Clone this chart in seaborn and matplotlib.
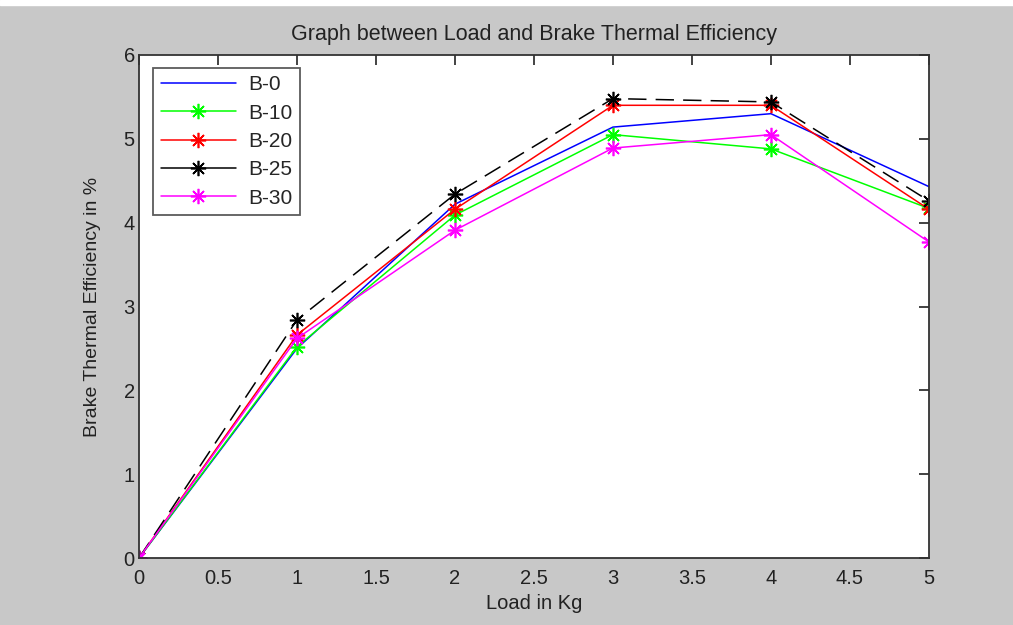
import numpy as np
import pandas as pd
import seaborn as sns
import matplotlib
matplotlib.use("Agg")
import matplotlib.pyplot as plt
from matplotlib.lines import Line2D
from matplotlib.patches import Rectangle

load = [0, 1, 2, 3, 4, 5]
b0 = [0, 2.50, 4.22, 5.14, 5.30, 4.43]
b10 = [0, 2.52, 4.09, 5.05, 4.88, 4.17]
b20 = [0, 2.66, 4.16, 5.40, 5.40, 4.16]
b25 = [0, 2.84, 4.34, 5.48, 5.44, 4.26]
b30 = [0, 2.62, 3.91, 4.89, 5.05, 3.77]

names = ["B-0", "B-10", "B-20", "B-25", "B-30"]
colors = ["#0000ff", "#00ff00", "#ff0000", "#000000", "#ff00ff"]
star = (8, 2, 0)  # asterisk like matlab '*'
markers = [None, star, star, star, star]
styles = ["-", "-", "-", (0, (12, 6)), "-"]

sns.set_style("white")
plt.rcParams["font.family"] = ["Liberation Sans", "DejaVu Sans"]

fig = plt.figure(figsize=(10.13, 6.25), dpi=100, facecolor="#c8c8c8")
fig.patches.append(Rectangle((0, 0.992), 1, 0.008, transform=fig.transFigure,
                             color="white", zorder=0))
ax = fig.add_axes([0.1372, 0.1072, 0.7798, 0.8048])

for name, vals, c, m, ls in zip(names, [b0, b10, b20, b25, b30], colors, markers, styles):
    df = pd.DataFrame({"load": load, "eff": vals})
    sns.lineplot(data=df, x="load", y="eff", ax=ax, color=c, marker=m,
                 markersize=11, markeredgecolor=c, markeredgewidth=1.2,
                 linewidth=1.1, linestyle=ls, label=name, legend=False)

ax.set_xlim(0, 5)
ax.set_ylim(0, 6)
ax.set_xticks(np.arange(0, 5.01, 0.5))
ax.set_xticklabels(["0", "0.5", "1", "1.5", "2", "2.5", "3", "3.5", "4", "4.5", "5"])
ax.set_yticks(range(0, 7))
ax.tick_params(direction="in", top=True, right=True, length=7, width=1.2,
               labelsize=14.5, colors="#222222", pad=3)
ax.tick_params(axis="x", pad=8)
for s in ax.spines.values():
    s.set_color("#333333")
    s.set_linewidth(1.3)

ax.set_title("Graph between Load and Brake Thermal Efficiency", fontsize=15.5,
             pad=11, color="#222222")
ax.set_xlabel("Load in Kg", fontsize=14.5, labelpad=4, color="#222222")
ax.set_ylabel("Brake Thermal Efficiency in %", fontsize=14, labelpad=16,
              color="#222222")

handles = [Line2D([], [], color=c, marker=m, markersize=11, markeredgewidth=1.2,
                  linewidth=1.1) for c, m in zip(colors, markers)]
leg = ax.legend(handles, names, loc="upper left", fontsize=15, frameon=True,
                fancybox=False, edgecolor="#333333", handlelength=3.6,
                borderpad=0.35, labelspacing=0.45, handletextpad=0.6,
                bbox_to_anchor=(0.005, 0.995))
leg.get_frame().set_linewidth(1.3)

fig.savefig("out.png", dpi=100, facecolor=fig.get_facecolor())
